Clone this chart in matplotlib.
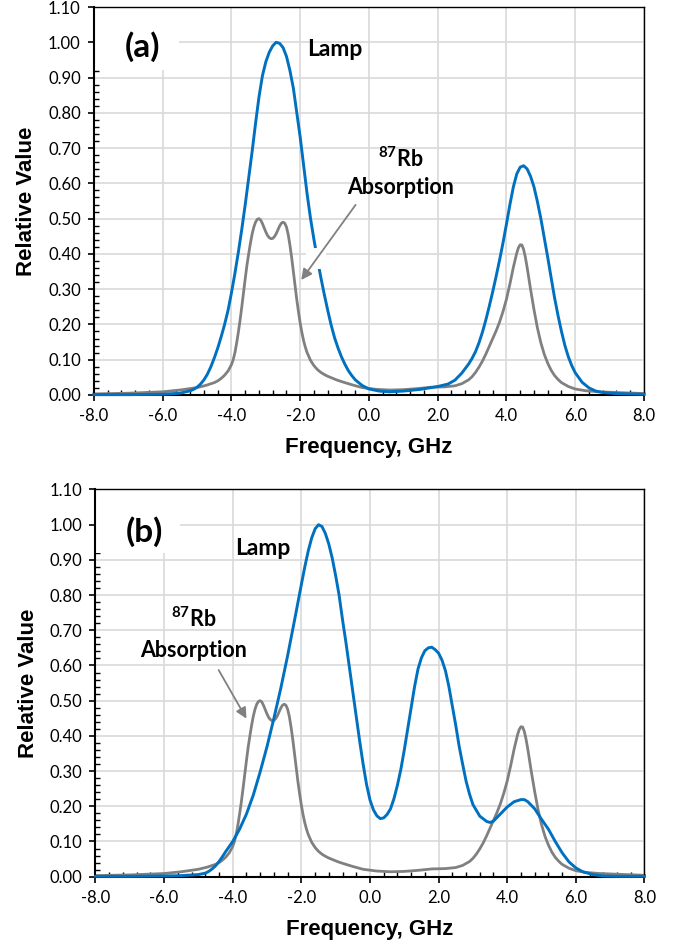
import numpy as np
import matplotlib
matplotlib.use('Agg')
import matplotlib.pyplot as plt
from matplotlib.ticker import MultipleLocator, FormatStrFormatter
from matplotlib.patches import Rectangle

plt.rcParams['font.family'] = ['Lato', 'DejaVu Sans']
plt.rcParams['mathtext.fontset'] = 'custom'
plt.rcParams['mathtext.rm'] = 'Lato:bold'
plt.rcParams['mathtext.bf'] = 'Lato:bold'

# 87Rb absorption (same curve in both panels)
abs_x = [-8, -7, -6, -5.5, -5.0, -4.75, -4.5, -4.4, -4.3, -4.2, -4.1, -4.0, -3.95, -3.9,
         -3.85, -3.8, -3.75, -3.7, -3.65, -3.6, -3.55, -3.5, -3.45, -3.4, -3.35, -3.3,
         -3.25, -3.2, -3.15, -3.1, -3.05, -3.0, -2.95, -2.9, -2.85, -2.8, -2.75, -2.7,
         -2.65, -2.6, -2.55, -2.5, -2.45, -2.4, -2.35, -2.3, -2.25, -2.2, -2.15, -2.1,
         -2.05, -2.0, -1.95, -1.9, -1.85, -1.8, -1.7, -1.6, -1.5, -1.4, -1.3, -1.2, -1.1,
         -0.95, -0.8, -0.5, -0.2, 0.2, 0.6, 1.0, 1.4, 1.8, 2.2, 2.5, 2.7, 2.9, 3.0, 3.1,
         3.2, 3.3, 3.4, 3.5, 3.6, 3.7, 3.8, 3.9, 4.0, 4.1, 4.2, 4.3, 4.35, 4.4, 4.45, 4.5,
         4.55, 4.6, 4.7, 4.8, 4.9, 5.0, 5.1, 5.2, 5.3, 5.4, 5.5, 5.6, 5.8, 6.0, 6.3, 6.7,
         7.2, 8.0]
abs_y = [0.003, 0.005, 0.009, 0.014, 0.021, 0.027, 0.035, 0.040, 0.047, 0.056, 0.068,
         0.086, 0.100, 0.12, 0.147, 0.178, 0.212, 0.25, 0.29, 0.33, 0.368, 0.40, 0.43,
         0.456, 0.476, 0.49, 0.498, 0.500, 0.496, 0.486, 0.474, 0.462, 0.452, 0.446,
         0.443, 0.444, 0.449, 0.457, 0.468, 0.479, 0.487, 0.490, 0.487, 0.476, 0.455,
         0.425, 0.39, 0.35, 0.31, 0.27, 0.235, 0.203, 0.176, 0.153, 0.135, 0.12, 0.098,
         0.083, 0.072, 0.064, 0.058, 0.053, 0.049, 0.043, 0.038, 0.029, 0.021, 0.016,
         0.014, 0.015, 0.018, 0.022, 0.023, 0.026, 0.032, 0.043, 0.052, 0.064, 0.079,
         0.096, 0.116, 0.138, 0.16, 0.182, 0.207, 0.237, 0.272, 0.315, 0.362, 0.403,
         0.418, 0.426, 0.425, 0.412, 0.39, 0.362, 0.30, 0.242, 0.19, 0.148, 0.115, 0.09,
         0.07, 0.055, 0.044, 0.035, 0.024, 0.017, 0.012, 0.009, 0.007, 0.004]

# lamp, panel (a)
lamp_a_x = [-8, -7, -6, -5.5, -5.2, -5.1, -5.0, -4.9, -4.8, -4.7, -4.6, -4.5, -4.4, -4.3,
            -4.2, -4.1, -4.0, -3.9, -3.8, -3.7, -3.6, -3.5, -3.4, -3.3, -3.2, -3.1, -3.0,
            -2.9, -2.8, -2.7, -2.6, -2.5, -2.4, -2.3, -2.2, -2.1, -2.0, -1.9, -1.8, -1.7,
            -1.6, -1.5, -1.4, -1.3, -1.2, -1.1, -1.0, -0.9, -0.8, -0.7, -0.6, -0.5, -0.4,
            -0.2, 0.0, 0.3, 0.6, 1.0, 1.5, 2.0, 2.3, 2.5, 2.7, 2.9, 3.0, 3.1, 3.2, 3.3,
            3.4, 3.5, 3.6, 3.7, 3.8, 3.9, 4.0, 4.1, 4.2, 4.3, 4.4, 4.5, 4.6, 4.7, 4.8, 4.9,
            5.0, 5.1, 5.2, 5.3, 5.4, 5.5, 5.6, 5.7, 5.8, 5.9, 6.0, 6.2, 6.4, 6.6, 6.8,
            7.2, 8.0]
lamp_a_y = [0.001, 0.001, 0.002, 0.005, 0.012, 0.016, 0.022, 0.031, 0.043, 0.059, 0.08,
            0.105, 0.133, 0.165, 0.20, 0.24, 0.29, 0.345, 0.405, 0.47, 0.54, 0.615, 0.69,
            0.77, 0.845, 0.905, 0.945, 0.972, 0.99, 1.0, 0.997, 0.985, 0.96, 0.92, 0.87,
            0.80, 0.73, 0.65, 0.57, 0.50, 0.44, 0.385, 0.333, 0.285, 0.24, 0.198, 0.162,
            0.133, 0.108, 0.087, 0.069, 0.055, 0.043, 0.027, 0.017, 0.011, 0.009, 0.011,
            0.016, 0.024, 0.031, 0.042, 0.062, 0.088, 0.104, 0.123, 0.148, 0.178, 0.213,
            0.252, 0.293, 0.337, 0.383, 0.432, 0.485, 0.54, 0.59, 0.627, 0.646, 0.65,
            0.641, 0.62, 0.59, 0.548, 0.50, 0.445, 0.39, 0.332, 0.275, 0.225, 0.18, 0.14,
            0.108, 0.083, 0.063, 0.036, 0.02, 0.011, 0.007, 0.004, 0.002]

# lamp, panel (b)
lamp_b_x = [-8, -7, -6, -5.5, -5.0, -4.8, -4.7, -4.6, -4.5, -4.4, -4.3, -4.2, -4.1, -4.0,
            -3.8, -3.6, -3.4, -3.2, -3.0, -2.8, -2.6, -2.4, -2.2, -2.0, -1.9, -1.8, -1.7,
            -1.6, -1.5, -1.4, -1.3, -1.2, -1.1, -1.0, -0.9, -0.8, -0.7, -0.6, -0.5, -0.4,
            -0.3, -0.2, -0.1, 0.0, 0.1, 0.2, 0.3, 0.4, 0.5, 0.6, 0.7, 0.8, 0.9, 1.0, 1.1,
            1.2, 1.3, 1.4, 1.5, 1.6, 1.7, 1.8, 1.9, 2.0, 2.1, 2.2, 2.3, 2.4, 2.5, 2.6, 2.7,
            2.8, 2.9, 3.0, 3.2, 3.4, 3.5, 3.6, 3.8, 4.0, 4.2, 4.4, 4.5, 4.6, 4.8, 5.0, 5.2,
            5.4, 5.6, 5.8, 6.0, 6.2, 6.5, 6.8, 7.2, 8.0]
lamp_b_y = [0.001, 0.001, 0.002, 0.003, 0.006, 0.010, 0.015, 0.022, 0.031, 0.043, 0.057,
            0.072, 0.086, 0.10, 0.135, 0.178, 0.232, 0.298, 0.37, 0.45, 0.535, 0.628,
            0.728, 0.83, 0.88, 0.925, 0.962, 0.988, 1.0, 0.995, 0.975, 0.945, 0.905, 0.855,
            0.80, 0.73, 0.665, 0.595, 0.525, 0.455, 0.385, 0.32, 0.262, 0.218, 0.19, 0.173,
            0.165, 0.167, 0.177, 0.193, 0.222, 0.26, 0.305, 0.36, 0.42, 0.48, 0.54, 0.59,
            0.622, 0.642, 0.650, 0.652, 0.645, 0.635, 0.615, 0.585, 0.54, 0.485, 0.43,
            0.37, 0.32, 0.272, 0.235, 0.205, 0.172, 0.157, 0.154, 0.158, 0.178, 0.198,
            0.213, 0.219, 0.219, 0.213, 0.193, 0.163, 0.135, 0.10, 0.068, 0.042, 0.025,
            0.014, 0.006, 0.002, 0.001, 0.001]

x_ticks = [-8, -6, -4, -2, 0, 2, 4, 6, 8]

blue = '#0070C0'
grey = '#808080'
lab_font = ['Liberation Sans', 'DejaVu Sans']

fig = plt.figure(figsize=(6.84, 9.49), dpi=100)
ax1 = fig.add_axes([0.1374, 0.5838, 0.8041, 0.4088])
ax2 = fig.add_axes([0.1396, 0.0762, 0.8026, 0.4080])


def style_axes(ax):
    ax.set_xlim(-8, 8)
    ax.set_ylim(0, 1.1)
    ax.set_xticks(x_ticks)
    ax.xaxis.set_minor_locator(MultipleLocator(0.4))
    ax.yaxis.set_major_locator(MultipleLocator(0.1))
    ax.yaxis.set_minor_locator(MultipleLocator(0.02))
    ax.xaxis.set_major_formatter(FormatStrFormatter('%.1f'))
    ax.yaxis.set_major_formatter(FormatStrFormatter('%.2f'))
    ax.set_axisbelow(True)
    ax.grid(True, which='major', color='#d9d9d9', lw=1.2)
    ax.tick_params(which='major', direction='out', length=4.5, width=1.2,
                   labelsize=12, pad=5)
    ax.tick_params(which='minor', direction='in', length=3.5, width=1.0)
    for s in ['left', 'bottom']:
        ax.spines[s].set_linewidth(1.5)
    for s in ['top', 'right']:
        ax.spines[s].set_linewidth(1.0)
    ax.set_xlabel('Frequency, GHz', fontsize=16, fontweight='bold', family=lab_font,
                  va='top')
    ax.xaxis.set_label_coords(0.5, -0.108)
    ax.set_ylabel('Relative Value', fontsize=16, fontweight='bold', family=lab_font)
    ax.yaxis.set_label_coords(-0.103, 0.5)


for ax in [ax1, ax2]:
    style_axes(ax)
    ax.plot(abs_x, abs_y, color=grey, lw=2.0, zorder=2, clip_on=False)
    ax.add_patch(Rectangle((-8, 0.921), 2.46, 0.179, facecolor='white',
                           edgecolor='none', zorder=1))

ax1.plot(lamp_a_x, lamp_a_y, color=blue, lw=2.1, zorder=3, clip_on=False)
ax2.plot(lamp_b_x, lamp_b_y, color=blue, lw=2.1, zorder=3, clip_on=False)

# white gap left over from a text box in panel (a)
ax1.add_patch(Rectangle((-1.84, 0.356), 0.58, 0.06, facecolor='white',
                        edgecolor='none', zorder=4))

arrow = dict(arrowstyle='-|>', color=grey, lw=1.3, mutation_scale=16,
             shrinkA=0, shrinkB=0)

# panel (a) labels
ax1.text(-6.58, 0.988, '(a)', fontsize=24, fontweight='bold', ha='center',
         va='center', zorder=6)
ax1.text(-0.99, 0.961, 'Lamp', fontsize=16.5, fontweight='bold', ha='center',
         va='baseline', zorder=6)
ax1.text(0.93, 0.647, r'$^{\mathrm{87}}$Rb', fontsize=15.5, fontweight='bold',
         ha='center', va='baseline', zorder=6)
ax1.text(0.93, 0.569, 'Absorption', fontsize=15.5, fontweight='bold', ha='center',
         va='baseline', zorder=6)
ax1.annotate('', xy=(-1.97, 0.326), xytext=(-0.39, 0.539), arrowprops=arrow,
             zorder=5)

# panel (b) labels
ax2.text(-6.58, 0.981, '(b)', fontsize=24, fontweight='bold', ha='center',
         va='center', zorder=6)
ax2.text(-3.12, 0.913, 'Lamp', fontsize=16.5, fontweight='bold', ha='center',
         va='baseline', zorder=6)
ax2.text(-5.15, 0.708, r'$^{\mathrm{87}}$Rb', fontsize=15.5, fontweight='bold',
         ha='center', va='baseline', zorder=6)
ax2.text(-5.15, 0.624, 'Absorption', fontsize=15.5, fontweight='bold', ha='center',
         va='baseline', zorder=6)
ax2.annotate('', xy=(-3.60, 0.449), xytext=(-4.41, 0.587), arrowprops=arrow,
             zorder=5)

fig.savefig('out.png', dpi=100)
